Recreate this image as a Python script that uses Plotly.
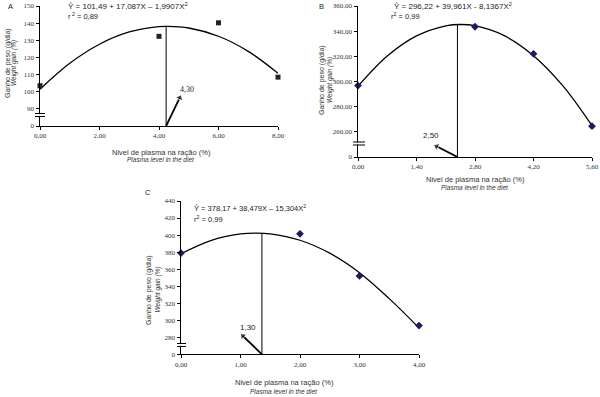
import plotly.graph_objects as go

W, H = 600, 397

# ---------------- data ----------------
# Panel A
a_x = [0, 4, 6, 8]
a_y = [103.5, 132.3, 140.2, 108.5]
a_curve_x = [0, 1, 2, 3, 4, 4.29, 5, 6, 7, 8]
a_curve_y = [101.49, 116.59, 127.70, 134.84, 137.99, 138.16, 137.16, 132.35, 123.56, 110.78]
a_peak = (4.24, 138.16)
a_xticks = [0, 2, 4, 6, 8]
a_xtext = ["0,00", "2,00", "4,00", "6,00", "8,00"]
a_yticks = [80, 90, 100, 110, 120, 130, 140, 150]
a_ytext = ["0", "90", "100", "110", "120", "130", "140", "150"]

# Panel B
b_x = [0, 2.8, 4.2, 5.6]
b_y = [296.8, 343.5, 322.0, 264.5]
b_curve_x = [0, 0.7, 1.4, 2.1, 2.456, 2.8, 3.5, 4.2, 4.9, 5.6]
b_curve_y = [296.22, 320.21, 336.22, 344.26, 345.28, 344.32, 336.41, 320.53, 296.67, 264.84]
b_peak = (2.38, 345.28)
b_xticks = [0, 1.4, 2.8, 4.2, 5.6]
b_xtext = ["0,00", "1,40", "2,80", "4,20", "5,60"]
b_yticks = [240, 260, 280, 300, 320, 340, 360]
b_ytext = ["0", "260,00", "280,00", "300,00", "320,00", "340,00", "360,00"]

# Panel C
c_x = [0, 2, 3, 4]
c_y = [378.8, 401.5, 352.0, 293.7]
c_curve_x = [0, 0.5, 1.0, 1.257, 1.5, 2.0, 2.5, 3.0, 3.5, 4.0]
c_curve_y = [378.17, 393.58, 401.35, 402.36, 401.45, 393.91, 378.72, 355.87, 325.37, 291.0]
c_peak = (1.36, 402.36)
c_xticks = [0, 1, 2, 3, 4]
c_xtext = ["0,00", "1,00", "2,00", "3,00", "4,00"]
c_yticks = [260, 280, 300, 320, 340, 360, 380, 400, 420, 440]
c_ytext = ["0", "280", "300", "320", "340", "360", "380", "400", "420", "440"]


def px(x):
    return x / W


def py(y):
    return 1 - y / H


SERIF = "Liberation Serif, Times New Roman, serif"
SANS = "Liberation Sans, Arial, sans-serif"

fig = go.Figure()

panels = [
    dict(sfx="", xs=a_x, ys=a_y, cx=a_curve_x, cy=a_curve_y, peak=a_peak,
         xt=a_xticks, xtt=a_xtext, yt=a_yticks, ytt=a_ytext,
         xr=[0, 8], yr=[80, 150], dom_x=(40, 278), dom_y=(6, 126),
         marker=dict(symbol="square", size=5, color="#222222"),
         arrow=(4.70, 96.5), lab=("4,30", 4.95, 101.5, SERIF),
         eq=("Ŷ = 101,49 + 17,087X – 1,9907X<sup>2</sup>", 66, 6, 8),
         r2=("r<sup> 2</sup> = 0,89", 66, 16, 7.5),
         letter=("A", 10, 6),
         ytitle=(8, 14, 63), xtitle=(161, 152, 160),
         brk=(113.5, 116.5, 35, 45)),
    dict(sfx="2", xs=b_x, ys=b_y, cx=b_curve_x, cy=b_curve_y, peak=b_peak,
         xt=b_xticks, xtt=b_xtext, yt=b_yticks, ytt=b_ytext,
         xr=[0, 5.6], yr=[240, 360], dom_x=(358, 592), dom_y=(6, 157),
         marker=dict(symbol="diamond", size=6, color="#1b1b5e"),
         arrow=(1.88, 248.5), lab=("2,50", 1.74, 257, SANS),
         eq=("Ŷ = 296,22 + 39,961X - 8,1367X<sup>2</sup>", 392, 6, 8),
         r2=("r<sup>2</sup> = 0,99", 389, 16, 7.5),
         letter=("B", 321, 6),
         ytitle=(322, 330, 80), xtitle=(475, 179, 188),
         brk=(142, 145, 353, 365)),
    dict(sfx="3", xs=c_x, ys=c_y, cx=c_curve_x, cy=c_curve_y, peak=c_peak,
         xt=c_xticks, xtt=c_xtext, yt=c_yticks, ytt=c_ytext,
         xr=[0, 4], yr=[260, 440], dom_x=(181, 419), dom_y=(201, 354.3),
         marker=dict(symbol="diamond", size=6, color="#1b1b5e"),
         arrow=(1.04, 281.5), lab=("1,30", 1.12, 292, SANS),
         eq=("Ŷ = 378,17 + 38,479X – 15,304X<sup>2</sup>", 192, 208, 7.5),
         r2=("r<sup>2</sup> = 0,99", 192, 219, 7.5),
         letter=("C", 148, 192),
         ytitle=(149, 157.5, 290), xtitle=(284, 382.5, 391),
         brk=(343.5, 346.5, 177, 186)),
]

annotations = []
shapes = []
for p in panels:
    s = p["sfx"]
    xa = "x" + s
    ya = "y" + s
    # fitted curve
    fig.add_trace(go.Scatter(x=p["cx"], y=p["cy"], mode="lines", line_shape="spline",
                             line=dict(color="black", width=1.3), xaxis=xa, yaxis=ya,
                             showlegend=False, hoverinfo="skip", cliponaxis=False))
    # observed points
    fig.add_trace(go.Scatter(x=p["xs"], y=p["ys"], mode="markers", marker=p["marker"],
                             xaxis=xa, yaxis=ya, showlegend=False, cliponaxis=False))
    # vertical line from peak
    fig.add_trace(go.Scatter(x=[p["peak"][0], p["peak"][0]], y=[p["yr"][0], p["peak"][1]],
                             mode="lines", line=dict(color="black", width=1),
                             xaxis=xa, yaxis=ya, showlegend=False, hoverinfo="skip",
                             cliponaxis=False))
    # arrow from the foot of the vertical line to the label
    fig.add_trace(go.Scatter(x=[p["peak"][0], p["arrow"][0]], y=[p["yr"][0], p["arrow"][1]],
                             mode="lines+markers", line=dict(color="black", width=1.8),
                             marker=dict(symbol="triangle-up", size=[0, 7], color="black",
                                         angleref="previous"),
                             xaxis=xa, yaxis=ya, showlegend=False, hoverinfo="skip",
                             cliponaxis=False))
    x0, x1 = p["dom_x"]
    y0, y1 = p["dom_y"]
    fig.update_layout(**{
        "xaxis" + s: dict(domain=[px(x0), px(x1)], range=p["xr"], anchor=ya,
                          tickvals=p["xt"], ticktext=p["xtt"], showline=True,
                          linecolor="black", linewidth=1, ticks="outside", ticklen=3,
                          tickcolor="black", showgrid=False, zeroline=False,
                          automargin=False, fixedrange=True,
                          tickfont=dict(family=SERIF, size=7, color="#333")),
        "yaxis" + s: dict(domain=[py(y1), py(y0)], range=p["yr"], anchor=xa,
                          tickvals=p["yt"], ticktext=p["ytt"], showline=True,
                          linecolor="black", linewidth=1.5, ticks="outside", ticklen=3,
                          tickcolor="black", showgrid=False, zeroline=False,
                          automargin=False, fixedrange=True,
                          tickfont=dict(family=SERIF, size=7, color="#333")),
    })
    lab = p["lab"]
    annotations.append(dict(x=lab[1], y=lab[2], xref=xa, yref=ya, text=lab[0], showarrow=False,
                            font=dict(family=lab[3], size=8, color="#222"),
                            xanchor="center", yanchor="middle"))
    # equations
    for key in ("eq", "r2"):
        t, ex, ey, fs = p[key]
        annotations.append(dict(x=px(ex), y=py(ey), xref="paper", yref="paper", text=t,
                                showarrow=False, xanchor="left", yanchor="middle",
                                font=dict(family=SANS, size=fs, color="#222")))
    # panel letter
    t, lx, ly = p["letter"]
    annotations.append(dict(x=px(lx), y=py(ly), xref="paper", yref="paper", text=t,
                            showarrow=False, xanchor="center", yanchor="middle",
                            font=dict(family=SANS, size=7.5, color="#222")))
    # axis titles
    t1, t2, tyc = p["ytitle"]
    annotations.append(dict(x=px(t1), y=py(tyc), xref="paper", yref="paper",
                            text="Ganho de peso (g/dia)", textangle=-90, showarrow=False,
                            xanchor="center", yanchor="middle",
                            font=dict(family=SANS, size=7, color="#333")))
    annotations.append(dict(x=px(t2), y=py(tyc), xref="paper", yref="paper",
                            text="<i>Weight gain (%)</i>", textangle=-90, showarrow=False,
                            xanchor="center", yanchor="middle",
                            font=dict(family=SANS, size=6.5, color="#333")))
    xc, xy1, xy2 = p["xtitle"]
    annotations.append(dict(x=px(xc), y=py(xy1), xref="paper", yref="paper",
                            text="Nivel de plasma na ração (%)", showarrow=False,
                            xanchor="center", yanchor="middle",
                            font=dict(family=SANS, size=7.5, color="#333")))
    annotations.append(dict(x=px(xc), y=py(xy2), xref="paper", yref="paper",
                            text="<i>Plasma level in the diet</i>", showarrow=False,
                            xanchor="center", yanchor="middle",
                            font=dict(family=SANS, size=6.5, color="#333")))
    # axis break marks
    b1, b2, bx0, bx1 = p["brk"]
    shapes.append(dict(type="rect", xref="paper", yref="paper",
                       x0=px(x0 - 1.5), x1=px(x0 + 1.5), y0=py(b2 - 0.6), y1=py(b1 + 0.6),
                       line=dict(width=0), fillcolor="white"))
    for by in (b1, b2):
        shapes.append(dict(type="line", xref="paper", yref="paper",
                           x0=px(bx0), x1=px(bx1), y0=py(by), y1=py(by),
                           line=dict(color="black", width=1)))

fig.update_layout(width=W, height=H, margin=dict(l=0, r=0, t=0, b=0),
                  template="none", hovermode=False,
                  paper_bgcolor="white", plot_bgcolor="white",
                  annotations=annotations, shapes=shapes, showlegend=False)

fig.write_html("out.html", config={"displayModeBar": False, "staticPlot": True},
               post_script="document.body.style.margin='0px';document.body.style.overflow='hidden';")
